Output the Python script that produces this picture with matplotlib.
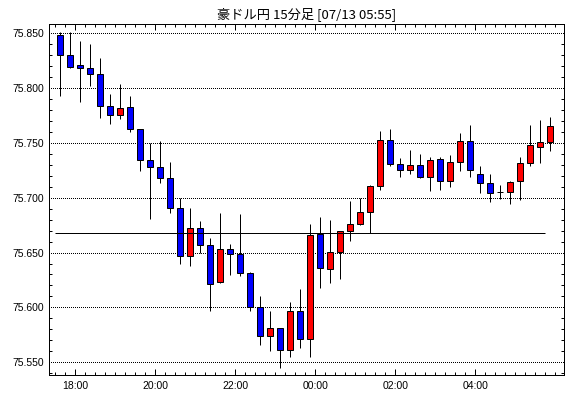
import matplotlib
matplotlib.use("Agg")
import matplotlib.pyplot as plt
import numpy as np
import pandas as pd

# ---- data (15-minute AUD/JPY candles, 17:30 .. 05:45) ----
title = "豪ドル円 15分足 [07/13 05:55]"
start_time = "2000-07-12 17:30"
opens = [75.8482, 75.8300, 75.8203, 75.8182, 75.8127, 75.7836, 75.7755, 75.7827, 75.7627, 75.7345,
         75.7282, 75.7182, 75.6909, 75.6464, 75.6727, 75.6564, 75.6233, 75.6536, 75.6491, 75.6318,
         75.6000, 75.5736, 75.5809, 75.5609, 75.5964, 75.5709, 75.6673, 75.6352, 75.6509, 75.6700,
         75.6764, 75.6873, 75.7109, 75.7527, 75.7309, 75.7255, 75.7300, 75.7188, 75.7355, 75.7155,
         75.7327, 75.7518, 75.7218, 75.7136, 75.7047, 75.7055, 75.7155, 75.7318, 75.7464, 75.7509]
highs = [75.8512, 75.8512, 75.8424, 75.8394, 75.8267, 75.7940, 75.8030, 75.7927, 75.7627, 75.7500,
         75.7512, 75.7321, 75.7000, 75.6903, 75.6785, 75.6630, 75.6858, 75.6576, 75.6848, 75.6327,
         75.6103, 75.5967, 75.5809, 75.6048, 75.6167, 75.6758, 75.6821, 75.6794, 75.6700, 75.6967,
         75.7000, 75.7118, 75.7609, 75.7621, 75.7358, 75.7430, 75.7394, 75.7367, 75.7373, 75.7385,
         75.7585, 75.7658, 75.7291, 75.7218, 75.7118, 75.7155, 75.7373, 75.7658, 75.7703, 75.7730]
lows = [75.7924, 75.8179, 75.7870, 75.8015, 75.7727, 75.7670, 75.7715, 75.7597, 75.7242, 75.6809,
        75.7133, 75.6861, 75.6397, 75.6379, 75.6500, 75.5964, 75.6224, 75.6297, 75.6288, 75.5970,
        75.5660, 75.5606, 75.5445, 75.5552, 75.5633, 75.5545, 75.6179, 75.6224, 75.6258, 75.6603,
        75.6755, 75.6682, 75.7070, 75.7291, 75.7188, 75.7215, 75.7179, 75.7061, 75.7070, 75.7097,
        75.7242, 75.7188, 75.7045, 75.6960, 75.6988, 75.6942, 75.6979, 75.7288, 75.7315, 75.7424]
closes = [75.8300, 75.8188, 75.8179, 75.8127, 75.7836, 75.7755, 75.7818, 75.7627, 75.7345, 75.7282,
          75.7182, 75.6909, 75.6464, 75.6727, 75.6564, 75.6218, 75.6536, 75.6491, 75.6318, 75.6000,
          75.5736, 75.5809, 75.5609, 75.5964, 75.5709, 75.6664, 75.6361, 75.6509, 75.6700, 75.6764,
          75.6873, 75.7109, 75.7527, 75.7309, 75.7255, 75.7300, 75.7188, 75.7345, 75.7155, 75.7327,
          75.7518, 75.7255, 75.7136, 75.7045, 75.7047, 75.7145, 75.7318, 75.7482, 75.7509, 75.7655]
ref_level = 75.6682
x_tick_labels = ["18:00", "20:00", "22:00", "00:00", "02:00", "04:00"]
y_ticks = [75.550, 75.600, 75.650, 75.700, 75.750, 75.800, 75.850]

# ---- figure ----
plt.rcParams['font.family'] = ['Liberation Sans', 'DejaVu Sans']
fig = plt.figure(figsize=(5.7, 3.98), dpi=100)
ax = fig.add_axes([48.5 / 570, 23 / 398, (564 - 48.5) / 570, (375 - 23.5) / 398])

n = len(opens)
times = pd.date_range(start_time, periods=n, freq="15min").strftime("%H:%M").tolist()
x = np.arange(n)
o = np.array(opens); c = np.array(closes); h = np.array(highs); l = np.array(lows)

px = 0.72  # one pixel in points
ax.vlines(x, l, h, color="black", lw=1.0 * px, zorder=2)
colors = np.where(c > o, "#ff0000", np.where(c < o, "#0000ff", "black"))
bottoms = np.minimum(o, c)
heights = np.abs(c - o)
ax.bar(x, heights, bottom=bottoms, width=0.6, color=colors, edgecolor="black",
       linewidth=1.0 * px, zorder=3)

ax.hlines(ref_level, -0.5, 48.5, color="black", lw=1.0 * px, zorder=4)

for yv in y_ticks:
    ax.axhline(yv, color="black", lw=1.0 * px, ls=(0, (1, 2)), zorder=1,
               antialiased=False)

ax.set_xlim(-1.18, 50.37)
ax.set_ylim(75.5385, 75.8585)

major_pos = [times.index(t) - 0.5 for t in x_tick_labels]
ax.set_xticks(major_pos)
ax.set_xticklabels(x_tick_labels)
ax.set_xticks(np.arange(-0.5, n, 1.0), minor=True)
ax.set_yticks(y_ticks)
ax.set_yticklabels([f"{v:.3f}" for v in y_ticks])
ax.set_yticks(np.arange(75.54, 75.86, 0.01), minor=True)

ax.tick_params(axis="both", which="both", direction="in", color="black",
               width=1.0 * px, labelsize=7.5, top=True, right=True)
ax.tick_params(axis="x", which="major", length=4, pad=4)
ax.tick_params(axis="x", which="minor", length=2)
ax.tick_params(axis="y", which="major", length=0, pad=3)
ax.tick_params(axis="y", which="minor", length=2.5)
for s in ax.spines.values():
    s.set_linewidth(1.0 * px)
    s.set_color("black")

fig.text((48.5 + 564) / 2 / 570, 1 - 18.3 / 398, title, ha="center", va="baseline",
         fontsize=9.5, family=["Noto Sans CJK JP", "DejaVu Sans"])

fig.savefig("out.png", dpi=100, facecolor="white")
